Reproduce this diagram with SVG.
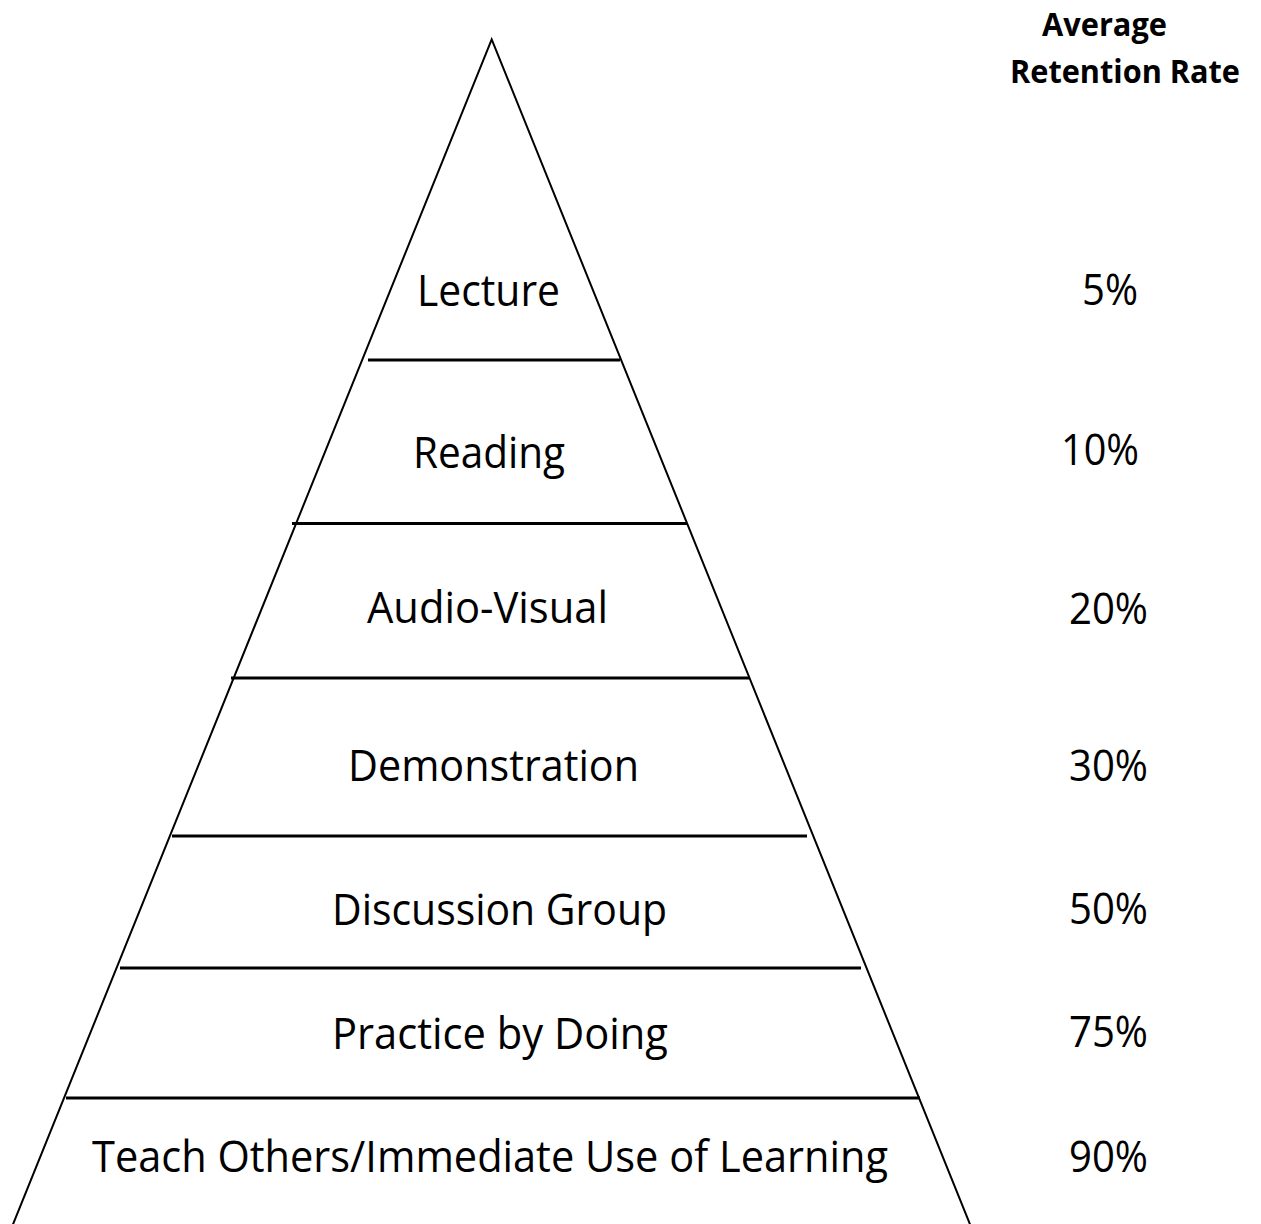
<svg xmlns="http://www.w3.org/2000/svg" width="1261" height="1224" viewBox="0 0 1261 1224">
  <style>
    .lbl { font-family: "Open Sans", "Noto Sans", "Liberation Sans", sans-serif; font-size: 43px; fill: #000; }
    .hdr { font-family: "Open Sans", "Noto Sans", "Liberation Sans", sans-serif; font-size: 33px; font-weight: bold; fill: #000; }
    .side { fill: none; stroke: #000; stroke-width: 2; stroke-linejoin: miter; }
    .div { stroke: #000; stroke-width: 3; }
  </style>
  <rect width="1261" height="1224" fill="#fff"/>
  <g id="pyramid-lines">
    <polyline class="side" points="10.7,1230 491.7,39.3 972.3,1230"/>
    <line class="div" x1="368" y1="360" x2="620" y2="360"/>
    <line class="div" x1="292" y1="523.5" x2="687" y2="523.5"/>
    <line class="div" x1="231" y1="678" x2="749" y2="678"/>
    <line class="div" x1="172" y1="836" x2="807" y2="836"/>
    <line class="div" x1="120" y1="968" x2="861" y2="968"/>
    <line class="div" x1="66" y1="1098" x2="920" y2="1098"/>
  </g>
  <g id="header">
    <text class="hdr" x="1042" y="35.5" textLength="125" lengthAdjust="spacingAndGlyphs">Average</text>
    <text class="hdr" x="1010" y="83" textLength="230" lengthAdjust="spacingAndGlyphs">Retention Rate</text>
  </g>
  <g id="tier-lecture">
    <text class="lbl" x="417" y="306" textLength="143" lengthAdjust="spacingAndGlyphs">Lecture</text>
    <text class="lbl" x="1082" y="305" textLength="56" lengthAdjust="spacingAndGlyphs">5%</text>
  </g>
  <g id="tier-reading">
    <text class="lbl" x="413" y="468" textLength="152" lengthAdjust="spacingAndGlyphs">Reading</text>
    <text class="lbl" x="1061" y="465" textLength="78" lengthAdjust="spacingAndGlyphs">10%</text>
  </g>
  <g id="tier-audio-visual">
    <text class="lbl" x="367" y="623" textLength="241" lengthAdjust="spacingAndGlyphs">Audio-Visual</text>
    <text class="lbl" x="1069" y="624" textLength="79" lengthAdjust="spacingAndGlyphs">20%</text>
  </g>
  <g id="tier-demonstration">
    <text class="lbl" x="348" y="781" textLength="291" lengthAdjust="spacingAndGlyphs">Demonstration</text>
    <text class="lbl" x="1069" y="781" textLength="79" lengthAdjust="spacingAndGlyphs">30%</text>
  </g>
  <g id="tier-discussion">
    <text class="lbl" x="332" y="925" textLength="335" lengthAdjust="spacingAndGlyphs">Discussion Group</text>
    <text class="lbl" x="1069" y="924" textLength="79" lengthAdjust="spacingAndGlyphs">50%</text>
  </g>
  <g id="tier-practice">
    <text class="lbl" x="332" y="1049" textLength="336" lengthAdjust="spacingAndGlyphs">Practice by Doing</text>
    <text class="lbl" x="1069" y="1047" textLength="79" lengthAdjust="spacingAndGlyphs">75%</text>
  </g>
  <g id="tier-teach">
    <text class="lbl" x="92" y="1172" textLength="796" lengthAdjust="spacingAndGlyphs">Teach Others/Immediate Use of Learning</text>
    <text class="lbl" x="1069" y="1172" textLength="79" lengthAdjust="spacingAndGlyphs">90%</text>
  </g>
</svg>
